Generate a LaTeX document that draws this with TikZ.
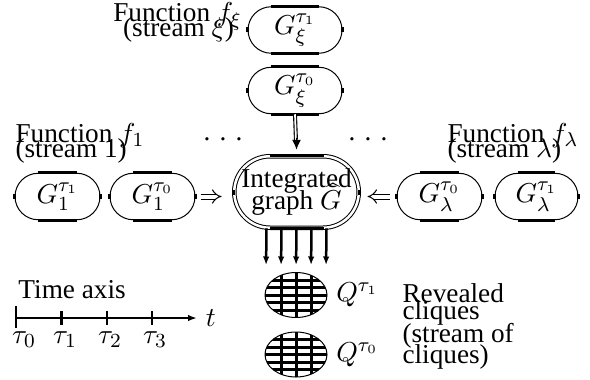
\documentclass[tikz,border=0pt]{standalone}
\usepackage{fontspec}
\setmainfont{Liberation Serif}
\usetikzlibrary{arrows.meta, shapes.geometric}

\begin{document}
\begin{tikzpicture}[x=0.4pt, y=-0.4pt,
    every node/.style={font=\fontsize{10.9}{13}\selectfont},
    gbox/.style={draw, line width=0.4pt, inner sep=0pt, minimum width=#1,
                 minimum height=18.6pt, rounded corners=9.3pt},
    rim/.style={line width=1.3pt},
    fat/.style={line width=1pt, -{Latex[length=3.4pt, width=2.6pt]}},
    dbl/.style={double, double distance=1.6pt, line width=0.4pt, -Implies},
    qshape/.style={draw, ellipse, line width=0.4pt, inner sep=0pt,
                   minimum width=24.8pt, minimum height=18pt},
    txt/.style={inner sep=0pt, anchor=base west},
    ctxt/.style={inner sep=0pt, anchor=base}]
    \useasboundingbox (0,0) rectangle (590,379);

    % Stream xi (top)
    \node[gbox=37.6pt] (gx1) at (295,30) {$G^{\tau_1}_\xi$};
    \node[gbox=37.6pt] (gx0) at (295,90.5) {$G^{\tau_0}_\xi$};
    \node[ctxt] (fx) at (177.5,22) {Function $f_\xi$};
    \node[ctxt] (sx) at (178.5,37) {(stream $\xi$)};

    % Stream 1 (left)
    \node[gbox=34pt] (g1a) at (57.5,196.5) {$G^{\tau_1}_1$};
    \node[gbox=34pt] (g1b) at (152.5,196.5) {$G^{\tau_0}_1$};
    \node[txt] (f1) at (15,142) {Function $f_1$};
    \node[txt] (s1) at (15,157) {(stream 1)};

    % Stream lambda (right)
    \node[gbox=34pt] (gla) at (439.5,196.5) {$G^{\tau_0}_\lambda$};
    \node[gbox=33.2pt] (glb) at (536.5,196.5) {$G^{\tau_1}_\lambda$};
    \node[txt] (fl) at (447,142) {Function $f_\lambda$};
    \node[txt] (sl) at (447,157) {(stream $\lambda$)};

    % Dots between the streams
    \node[ctxt] (dl) at (223,140) {.\hspace{3.7pt}.\hspace{3.7pt}.};
    \node[ctxt] (dr) at (368,140) {.\hspace{3.7pt}.\hspace{3.7pt}.};

    % Integrated graph
    \node[draw, double, double distance=1pt, line width=0.4pt, inner sep=0pt,
          minimum width=49.8pt, minimum height=28.6pt, rounded corners=14.3pt,
          align=center] (int) at (296.5,192) {Integrated\\[-4.2pt]graph $\widehat{G}$};

    % Thick rims of the boxes
    \foreach \b/\r in {gx1/9.3pt, gx0/9.3pt, g1a/9.3pt, g1b/9.3pt,
                       gla/9.3pt, glb/9.3pt, int/14.3pt} {
        \draw[rim] ([xshift=\r]\b.north west) -- ([xshift=-\r]\b.north east);
        \draw[rim] ([xshift=\r]\b.south west) -- ([xshift=-\r]\b.south east);
        \draw[rim] ([yshift=-1pt]\b.west) -- ([yshift=1pt]\b.west);
        \draw[rim] ([yshift=-1pt]\b.east) -- ([yshift=1pt]\b.east);
    }

    % Arrows into the integrated graph
    \draw[double, double distance=0.7pt, line width=0.45pt, shorten >=6.4pt]
        (gx0.south) -- (int.north);
    \draw[line width=0.5pt, -{Latex[length=4pt, width=3.6pt]}, shorten >=2.4pt]
        ([yshift=7pt]int.north) -- (int.north);
    \draw[dbl, shorten <=2pt, shorten >=4.9pt] (g1b.east) -- (g1b.east -| int.west);
    \draw[dbl, shorten <=2.8pt, shorten >=3.3pt] (gla.west) -- (gla.west -| int.east);

    % Revealed cliques
    \foreach \q/\y/\t in {q1/295/1, q0/354.5/0} {
        \node[qshape] (\q) at (296,\y) {};
        \begin{scope}
            \clip (\q.center) ellipse [x radius=12.4pt, y radius=9pt];
            \foreach \h in {-6,-3,0,3,6}
                \draw[line width=1.2pt] ([yshift=\h pt]\q.west) -- ([yshift=\h pt]\q.east);
            \foreach \v in {-6,0,6}
                \draw[line width=1.2pt] ([xshift=\v pt]\q.north) -- ([xshift=\v pt]\q.south);
        \end{scope}
        \node[right] (lab\q) at (\q.east) {$Q^{\tau_\t}$};
    }
    \foreach \dx in {-30,-15,0,15,30}
        \draw[fat, shorten >=2.8pt] ([xshift=\dx*0.4pt]int.south) -- ([xshift=\dx*0.4pt]q1.north);

    \node[txt] (r1) at (402,302) {Revealed};
    \node[txt] (r2) at (402,319) {cliques};
    \node[txt] (r3) at (402,342) {(stream of};
    \node[txt] (r4) at (402,363) {cliques)};

    % Time axis
    \node[txt] (tax) at (18,298) {Time axis};
    \coordinate (t0) at (16,318);
    \node[anchor=west] (tl) at (197,318) {$t$};
    \draw[line width=1pt, -{Latex[length=3.6pt, width=2.6pt]}] (t0) -- (tl.west);
    \draw[line width=1pt] (16,306) -- (16,328);
    \foreach \x/\w in {61/1.2pt, 107/0.7pt, 152/0.7pt}
        \draw[line width=\w] (\x,311) -- (\x,325);
    \foreach \x/\i in {24/0, 65/1, 110/2, 155/3}
        \node[ctxt] (tau\i) at (\x,343) {$\tau_\i$};
\end{tikzpicture}
\end{document}
